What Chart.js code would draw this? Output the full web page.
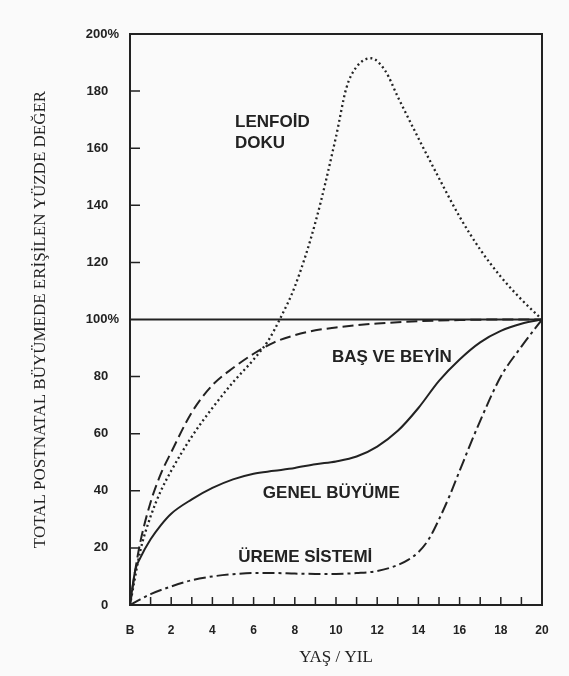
<!DOCTYPE html>
<html>
<head>
<meta charset="utf-8">
<script src="https://cdn.jsdelivr.net/npm/chart.js@4"></script>
<style>
  body { margin: 0; background: #fafafa; }
  canvas { display: block; }
</style>
</head>
<body>
<canvas id="myChart" width="569" height="676"></canvas>
<script>
// yaş (yıl), 0 = doğum (B)
const lenfoidAges = [0, 0.5, 1, 1.5, 2, 3, 4, 5, 6, 6.7, 7.3, 8, 9, 10, 10.5, 11, 11.7, 12.4, 13, 14, 15, 16, 17, 18, 19, 20];
const lenfoid = [0, 19, 31, 40, 47, 59, 69, 78, 86, 92.5, 100.5, 111.5, 134, 164, 181, 188.5, 191.5, 187, 178, 163.5, 149.5, 136, 124.5, 115, 107, 100];

const basBeyinAges = [0, 0.25, 0.5, 1, 1.5, 2, 3, 4, 5, 6, 7, 8, 9, 10, 11, 12, 14, 16, 18, 20];
const basBeyin = [0, 12, 22, 36, 46, 53.5, 67.5, 77, 83, 88, 92, 94.5, 96.2, 97.2, 98, 98.6, 99.4, 99.8, 100, 100];

const genelAges = [0, 0.25, 0.5, 1, 1.5, 2, 3, 4, 5, 6, 7, 8, 9, 10, 11, 12, 13, 14, 15, 16, 17, 18, 19, 20];
const genel = [0, 12, 16.5, 23, 28, 32, 37, 41, 44, 46, 47, 48, 49.3, 50.3, 52, 55.5, 61, 69, 78.5, 86, 92, 96, 98.5, 100];

const uremeAges = [0, 0.5, 1, 2, 3, 4, 5, 6, 7, 8, 9, 10, 11, 12, 13, 13.5, 14, 14.5, 15, 15.5, 16, 17, 18, 19, 20];
const ureme = [0, 2, 3.8, 6.5, 8.7, 10, 10.8, 11.2, 11.2, 11, 10.9, 10.9, 11.2, 11.9, 14, 15.8, 18.5, 23, 30, 38, 47, 64.5, 80, 90.5, 100];

const yTicks = [0, 20, 40, 60, 80, 100, 120, 140, 160, 180, 200];
const xTickLabels = ['B', '2', '4', '6', '8', '10', '12', '14', '16', '18', '20'];

const ink = '#222';

// eğri adları: [metin, yaş, değer]
const curveNames = [
  ['LENFOİD', 5.1, 167.5],
  ['DOKU', 5.1, 160],
  ['BAŞ VE BEYİN', 9.8, 85],
  ['GENEL BÜYÜME', 6.45, 37.5],
  ['ÜREME SİSTEMİ', 5.25, 15]
];

function toPoints(ages, values) {
  return ages.map((a, i) => ({ x: a, y: values[i] }));
}

function line(ages, values, dash, width) {
  return {
    data: toPoints(ages, values),
    borderColor: ink,
    borderWidth: width || 2,
    borderDash: dash,
    pointRadius: 0,
    fill: false,
    cubicInterpolationMode: 'monotone'
  };
}

const frame = {
  id: 'frame',
  afterDatasetsDraw(chart) {
    const { ctx, chartArea: a, scales: { x, y } } = chart;
    ctx.save();
    ctx.strokeStyle = ink;
    ctx.lineWidth = 2;
    ctx.strokeRect(a.left, a.top, a.right - a.left, a.bottom - a.top);

    const y100 = y.getPixelForValue(100);
    ctx.beginPath();
    ctx.moveTo(a.left, y100);
    ctx.lineTo(a.right, y100);
    ctx.stroke();

    ctx.lineWidth = 1.5;
    ctx.beginPath();
    for (let i = 1; i < 20; i++) {
      const px = x.getPixelForValue(i);
      ctx.moveTo(px, a.bottom);
      ctx.lineTo(px, a.bottom - 8);
    }
    yTicks.forEach(v => {
      if (v === 0 || v === 100 || v === 200) return;
      const py = y.getPixelForValue(v);
      ctx.moveTo(a.left, py);
      ctx.lineTo(a.left + 10, py);
    });
    ctx.stroke();

    ctx.fillStyle = ink;
    ctx.font = 'bold 17px "Liberation Sans", Arial, sans-serif';
    ctx.textBaseline = 'alphabetic';
    curveNames.forEach(([text, ax, val]) => {
      ctx.fillText(text, x.getPixelForValue(ax), y.getPixelForValue(val));
    });
    ctx.restore();
  }
};

new Chart(document.getElementById('myChart'), {
  type: 'line',
  data: {
    datasets: [
      line(lenfoidAges, lenfoid, [2, 3], 2.3),
      line(basBeyinAges, basBeyin, [11, 5]),
      line(genelAges, genel, []),
      line(uremeAges, ureme, [12, 4, 3, 4])
    ]
  },
  options: {
    responsive: false,
    animation: false,
    layout: { padding: { top: 34, right: 27, left: 0, bottom: 0 } },
    plugins: { legend: { display: false }, tooltip: { enabled: false } },
    scales: {
      x: {
        type: 'linear',
        min: 0,
        max: 20,
        afterFit(scale) { scale.height = 71; },
        grid: { display: false },
        border: { display: false },
        ticks: {
          stepSize: 1,
          autoSkip: false,
          maxRotation: 0,
          padding: 10,
          color: ink,
          font: { family: '"Liberation Sans", Arial, sans-serif', size: 12, weight: 'bold' },
          callback: v => (v % 2 === 0 ? xTickLabels[v / 2] : '')
        },
        title: {
          display: true,
          text: 'YAŞ / YIL',
          color: ink,
          font: { family: '"Liberation Serif", "Times New Roman", serif', size: 17 },
          padding: { top: 0, bottom: 8 }
        }
      },
      y: {
        min: 0,
        max: 200,
        afterFit(scale) { scale.width = 130; },
        grid: { display: false },
        border: { display: false },
        ticks: {
          stepSize: 20,
          padding: 3,
          color: ink,
          font: { family: '"Liberation Sans", Arial, sans-serif', size: 13, weight: 'bold' },
          callback: v => (v === 100 || v === 200 ? v + '%' : v + '   ')
        },
        title: {
          display: true,
          text: 'TOTAL POSTNATAL BÜYÜMEDE ERİŞİLEN YÜZDE DEĞER',
          color: ink,
          font: { family: '"Liberation Serif", "Times New Roman", serif', size: 17 },
          padding: { top: 30, bottom: 0 }
        }
      }
    }
  },
  plugins: [frame]
});
</script>
</body>
</html>
